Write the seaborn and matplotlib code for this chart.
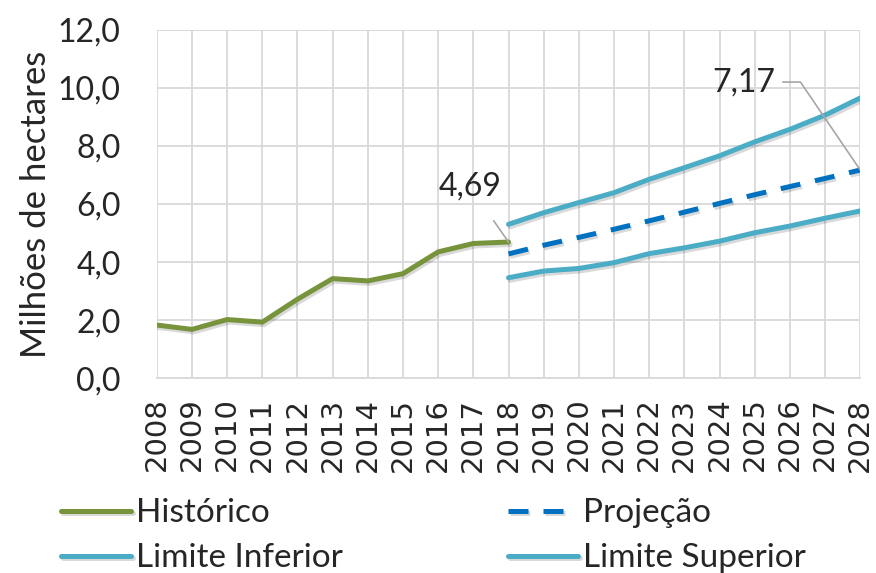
import matplotlib
matplotlib.use("Agg")
import matplotlib.pyplot as plt
import matplotlib.patheffects as pe
import seaborn as sns
import pandas as pd

# ------ Data ------
anos_hist = [2008, 2009, 2010, 2011, 2012, 2013, 2014, 2015, 2016, 2017, 2018]
historico = [1.83, 1.68, 2.02, 1.93, 2.72, 3.43, 3.35, 3.60, 4.35, 4.64, 4.69]

anos_proj = [2018, 2019, 2020, 2021, 2022, 2023, 2024, 2025, 2026, 2027, 2028]
projecao = [4.28, 4.58, 4.85, 5.13, 5.42, 5.72, 6.02, 6.32, 6.60, 6.88, 7.17]
limite_inf = [3.46, 3.69, 3.78, 3.98, 4.29, 4.49, 4.72, 5.01, 5.24, 5.51, 5.76]
limite_sup = [5.30, 5.70, 6.05, 6.39, 6.85, 7.25, 7.66, 8.14, 8.57, 9.06, 9.65]

yticks = [0, 2, 4, 6, 8, 10, 12]
ytick_labels = ["0,0", "2,0", "4,0", "6,0", "8,0", "10,0", "12,0"]
xticks = list(range(2008, 2029))

COR_HIST = "#77933C"
COR_PROJ = "#0070C0"
COR_LIM = "#4BACC6"

sns.set_style("white")
plt.rcParams['font.family'] = ['Lato', 'DejaVu Sans']

fig = plt.figure(figsize=(8.76, 5.73), dpi=100)
ax = fig.add_axes([0.179, 0.340, 0.803, 0.608])

# soft Excel-like shadow under each line
shadow = [pe.SimpleLineShadow(offset=(1.2, -1.8), alpha=0.15, shadow_color="black"), pe.Normal()]

df_hist = pd.DataFrame({"ano": anos_hist, "valor": historico})
df_proj = pd.DataFrame({"ano": anos_proj, "proj": projecao, "inf": limite_inf, "sup": limite_sup})

sns.lineplot(data=df_hist, x="ano", y="valor", ax=ax, color=COR_HIST, lw=3.6,
             label="Histórico", path_effects=shadow)
sns.lineplot(data=df_proj, x="ano", y="proj", ax=ax, color=COR_PROJ, lw=3.6,
             label="Projeção", dashes=(4, 3), path_effects=shadow)
sns.lineplot(data=df_proj, x="ano", y="inf", ax=ax, color=COR_LIM, lw=3.6,
             label="Limite Inferior", path_effects=shadow)
sns.lineplot(data=df_proj, x="ano", y="sup", ax=ax, color=COR_LIM, lw=3.6,
             label="Limite Superior", path_effects=shadow)

ax.set_xlim(2008, 2028)
ax.set_ylim(0, 12)
ax.set_yticks(yticks)
ax.set_yticklabels(ytick_labels, fontsize=23)
ax.set_xticks(xticks)
ax.set_xticklabels([str(a) for a in xticks], rotation=90, fontsize=21,
                   family="DejaVu Sans")
ax.set_xlabel("")
ax.set_ylabel("Milhões de hectares", fontsize=25, labelpad=4)
ax.tick_params(axis="y", length=0, pad=26)
ax.tick_params(axis="x", length=0, pad=14)

ax.grid(True, color="#d9d9d9", lw=1.3)
ax.set_axisbelow(True)
for side in ["top", "right", "left"]:
    ax.spines[side].set_visible(False)
ax.spines["bottom"].set_color("#d9d9d9")
ax.spines["bottom"].set_linewidth(1.3)

# data labels with leader lines
ax.annotate("4,69", xy=(anos_hist[-1], historico[-1]), xytext=(2016.9, 6.6),
            fontsize=23, ha="center", va="center",
            arrowprops=dict(arrowstyle="-", color="#a6a6a6", lw=1.2,
                            shrinkA=14, shrinkB=0))
ax.plot([2025.8, 2026.3, 2028], [10.2, 10.2, projecao[-1]], color="#a6a6a6", lw=1.2)
ax.text(2024.7, 10.2, "7,17", fontsize=23, ha="center", va="center")

# legend: row 1 Histórico / Projeção, row 2 Limite Inferior / Limite Superior
handles, labels = ax.get_legend_handles_labels()
ordem = [0, 2, 1, 3]
ax.legend([handles[i] for i in ordem], [labels[i] for i in ordem],
          loc="upper left", bbox_to_anchor=(-0.155, -0.307),
          ncol=2, frameon=False, fontsize=24, handlelength=2.1,
          handletextpad=0.15, columnspacing=4.95, labelspacing=0.45,
          borderaxespad=0)

fig.savefig("out.png", dpi=100)
